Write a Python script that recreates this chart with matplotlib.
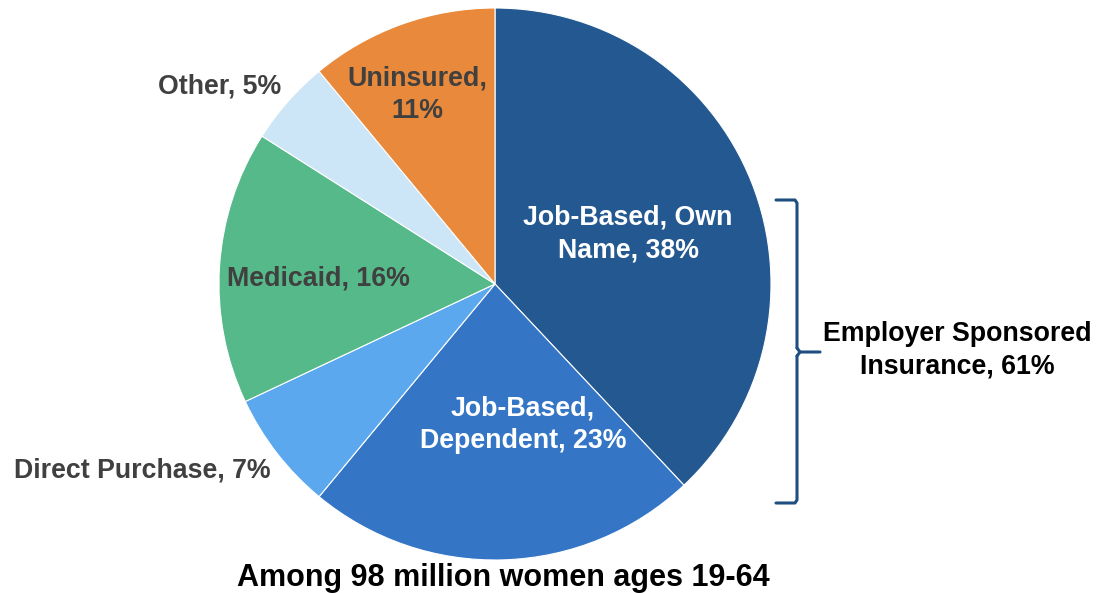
import matplotlib.pyplot as plt

# ---- Data ----
categories = ['Job-Based, Own Name', 'Job-Based, Dependent', 'Direct Purchase',
              'Medicaid', 'Other', 'Uninsured']
shares = [38, 23, 7, 16, 5, 11]
colors = ['#245891', '#3476c5', '#5ba8ef', '#55b98a', '#cce5f7', '#e8893b']
label_text = ['Job-Based, Own\nName, 38%', 'Job-Based,\nDependent, 23%',
              'Direct Purchase, 7%', 'Medicaid, 16%', 'Other, 5%',
              'Uninsured,\n11%']
bracket_label = 'Employer Sponsored\nInsurance, 61%'
title = 'Among 98 million women ages 19-64'

W, H = 1097, 593
fig = plt.figure(figsize=(W / 100, H / 100), dpi=100)
fig.patch.set_facecolor('white')
ax = fig.add_axes([0, 0, 1, 1])

# pixel-ish coordinates: y measured from the bottom
cx, cy, r = 495, H - 284, 276
ax.pie(shares, colors=colors, startangle=90, counterclock=False,
       center=(cx, cy), radius=r,
       wedgeprops=dict(edgecolor='white', linewidth=0.8))
ax.set_xlim(0, W)
ax.set_ylim(0, H)
ax.set_aspect('equal')
ax.axis('off')

FONT = 'Liberation Sans'
FS = 19.3
# label placement (pixel coords from top)
label_pos = [(628, 234), (523, 425), (142, 470), (318, 278), (220, 86), (417, 95)]
label_col = ['white', 'white', '#404040', '#404040', '#404040', '#404040']
for txt, (x, y), c in zip(label_text, label_pos, label_col):
    ax.text(x, H - y, txt, ha='center', va='center', color=c,
            fontsize=FS, fontweight='bold', family=FONT, linespacing=1.32)

# bracket for employer sponsored
bx, top, bot, mid = 797, 200, 503, 352
bc = '#1f4e80'
ax.plot([776, bx - 2, bx, bx], [H - top, H - top, H - top - 3, H - mid + 4],
        color=bc, lw=2.2, solid_capstyle='round', solid_joinstyle='round')
ax.plot([776, bx - 2, bx, bx], [H - bot, H - bot, H - bot + 3, H - mid - 4],
        color=bc, lw=2.2, solid_capstyle='round', solid_joinstyle='round')
ax.plot([bx, bx + 3, 820], [H - mid + 4, H - mid, H - mid],
        color=bc, lw=2.2, solid_capstyle='round', solid_joinstyle='round')
ax.plot([bx, bx + 3], [H - mid - 4, H - mid], color=bc, lw=2.2,
        solid_capstyle='round')
ax.text(957, H - 350, bracket_label, ha='center', va='center', color='black',
        fontsize=FS, fontweight='bold', family=FONT, linespacing=1.32)

ax.text(503, H - 578, title, ha='center', va='center', color='black',
        fontsize=22, fontweight='bold', family=FONT)

plt.savefig('out.png', dpi=100, facecolor='white')
